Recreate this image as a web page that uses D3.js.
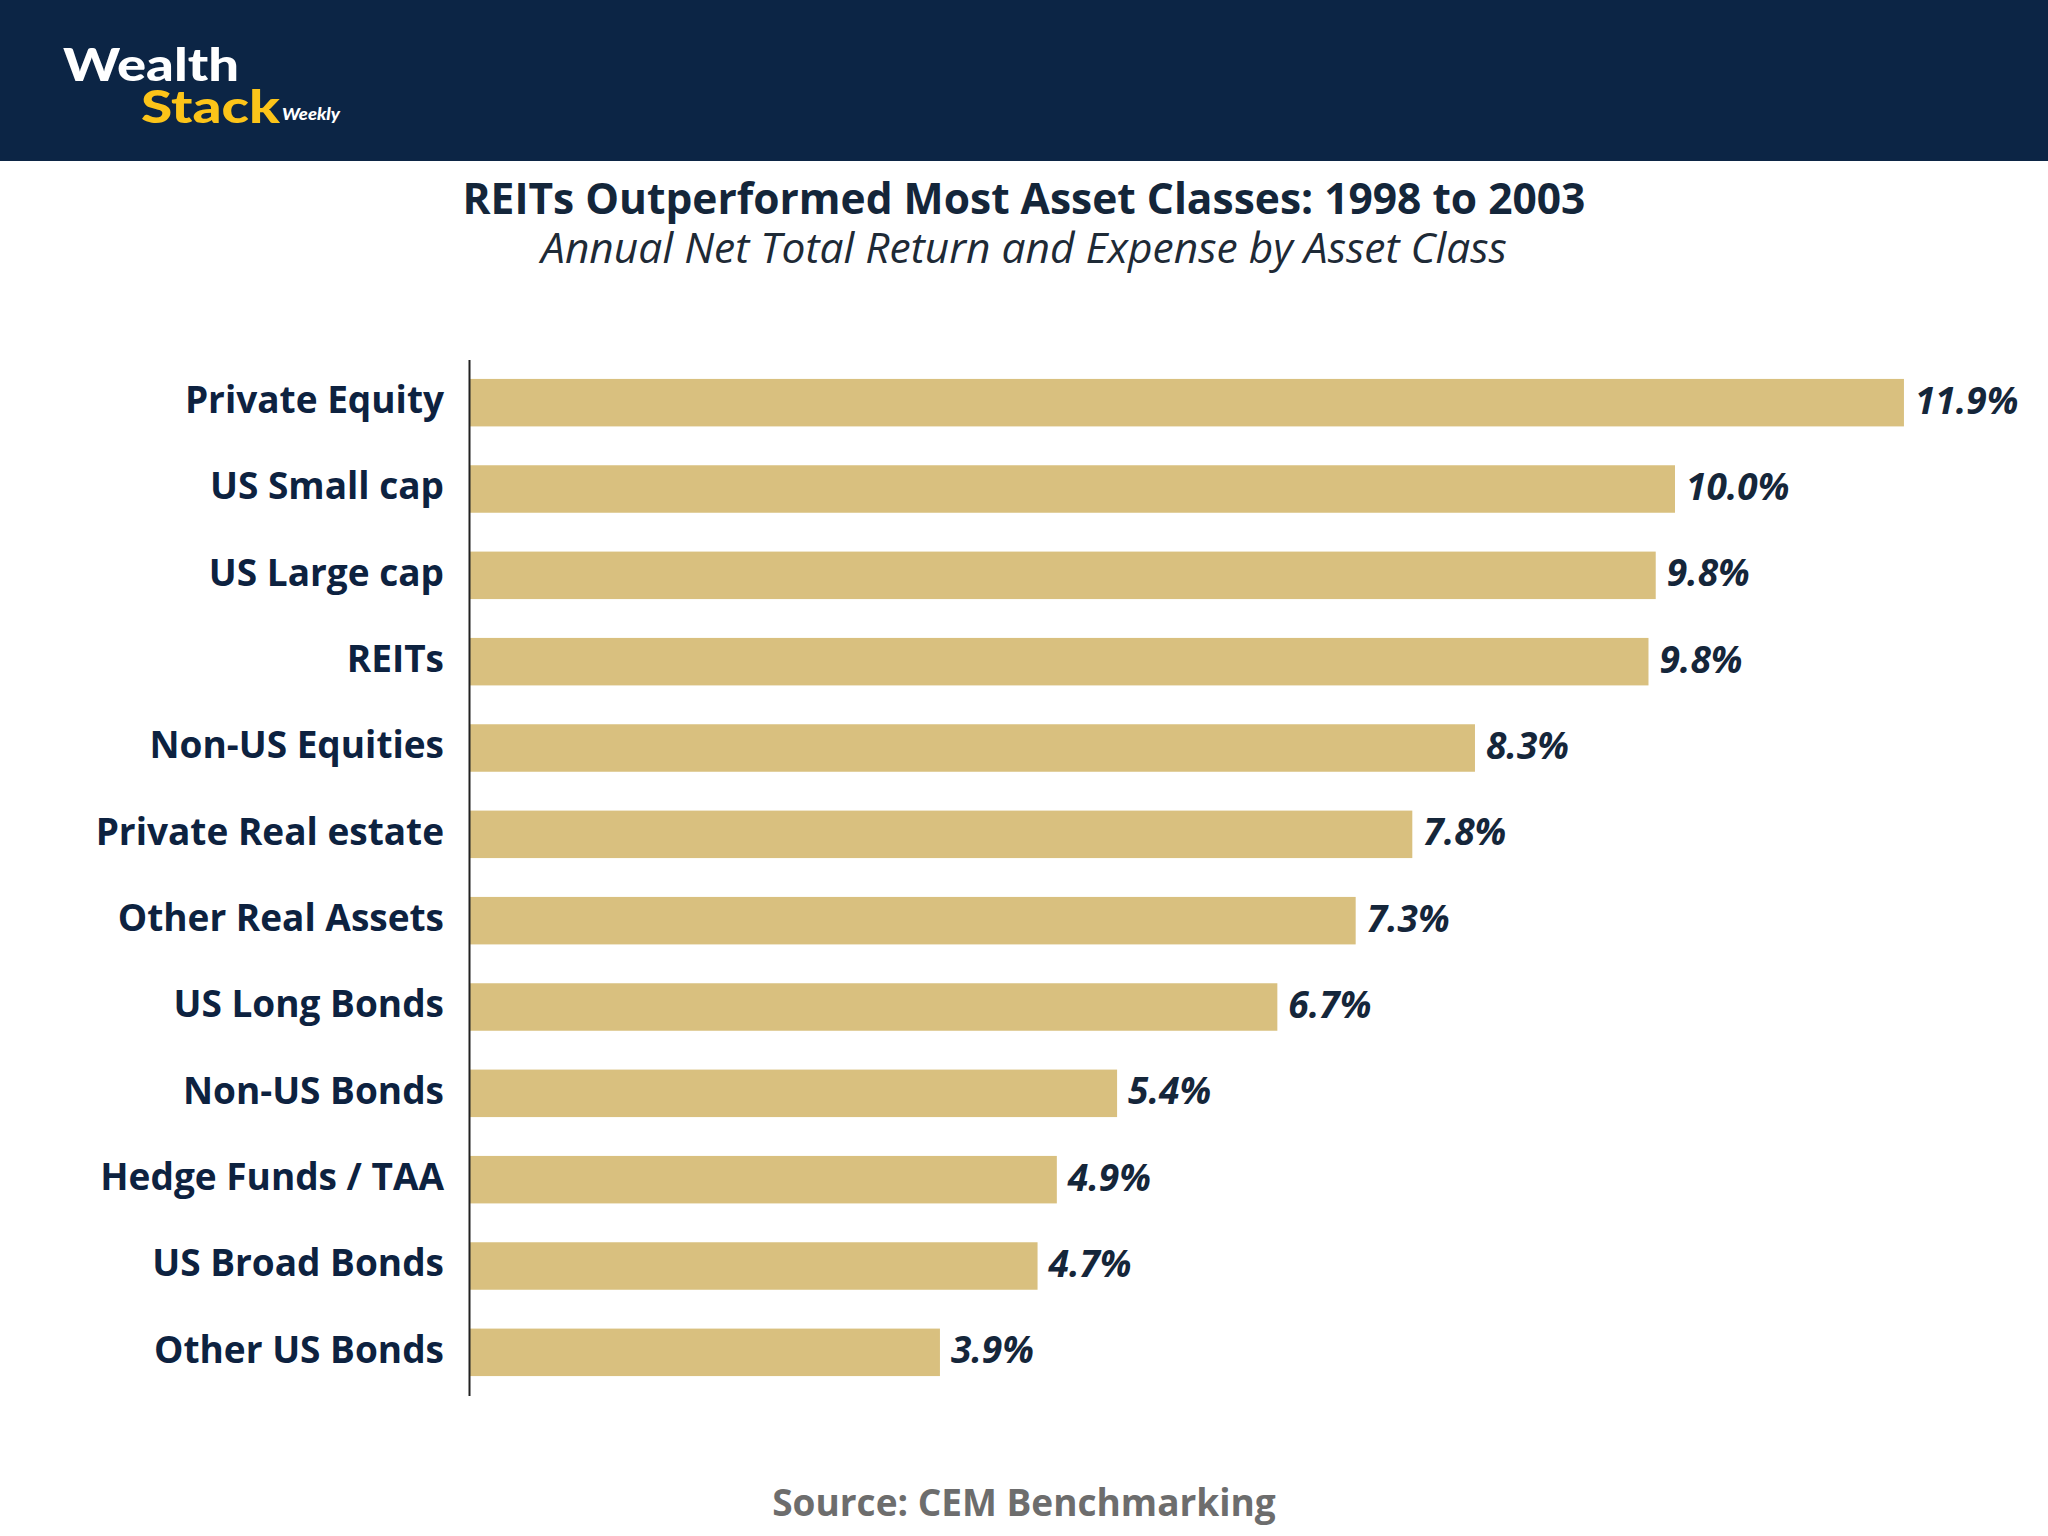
<!DOCTYPE html>
<html>
<head>
<meta charset="utf-8">
<script src="https://cdn.jsdelivr.net/npm/d3@7"></script>
<style>
  html, body { margin: 0; padding: 0; background: #ffffff; }
  svg { display: block; }
</style>
</head>
<body>
<svg id="chart" width="2048" height="1536"></svg>
<script>
// ---- Data ----
const categories = [
  "Private Equity", "US Small cap", "US Large cap", "REITs", "Non-US Equities",
  "Private Real estate", "Other Real Assets", "US Long Bonds", "Non-US Bonds",
  "Hedge Funds / TAA", "US Broad Bonds", "Other US Bonds"
];
const returns = [11.9, 10.0, 9.84, 9.78, 8.34, 7.82, 7.35, 6.7, 5.37, 4.87, 4.71, 3.9];
const valueLabels = ["11.9%", "10.0%", "9.8%", "9.8%", "8.3%", "7.8%", "7.3%", "6.7%", "5.4%", "4.9%", "4.7%", "3.9%"];
const titleText = "REITs Outperformed Most Asset Classes: 1998 to 2003";
const subtitleText = "Annual Net Total Return and Expense by Asset Class";
const sourceText = "Source: CEM Benchmarking";

const W = 2048, H = 1536;
const svg = d3.select("#chart");

// ---- Header ----
svg.append("rect").attr("x", 0).attr("y", 0).attr("width", W).attr("height", 161).attr("fill", "#0c2545");
const logo = svg.append("g");
logo.append("text").attr("x", 63).attr("y", 81)
  .attr("font-family", "Lato, 'Open Sans', sans-serif").attr("font-weight", 900)
  .attr("font-size", 45).attr("fill", "#ffffff").attr("textLength", 176).attr("lengthAdjust", "spacingAndGlyphs")
  .text("Wealth");
logo.append("text").attr("x", 141).attr("y", 123)
  .attr("font-family", "Lato, 'Open Sans', sans-serif").attr("font-weight", 900)
  .attr("font-size", 45).attr("fill", "#fcc419").attr("textLength", 139).attr("lengthAdjust", "spacingAndGlyphs")
  .text("Stack");
logo.append("text").attr("x", 282).attr("y", 120)
  .attr("font-family", "Lato, 'Open Sans', sans-serif").attr("font-weight", 900).attr("font-style", "italic")
  .attr("font-size", 17).attr("fill", "#ffffff").attr("textLength", 58).attr("lengthAdjust", "spacingAndGlyphs")
  .text("Weekly");

// ---- Titles ----
svg.append("text").attr("x", 1024).attr("y", 214).attr("text-anchor", "middle")
  .attr("font-family", "'Open Sans', sans-serif").attr("font-weight", 700)
  .attr("font-size", 42.5).attr("fill", "#14263a").text(titleText);
svg.append("text").attr("x", 1024).attr("y", 263).attr("text-anchor", "middle")
  .attr("font-family", "'Open Sans', sans-serif").attr("font-weight", 400).attr("font-style", "italic")
  .attr("font-size", 42.5).attr("fill", "#1e2a36").text(subtitleText);

// ---- Scales ----
const x0 = 470, xPerUnit = 120.5;
const x = d3.scaleLinear().domain([0, 11.9]).range([x0, x0 + 11.9 * xPerUnit]);
const y = d3.scaleBand().domain(categories).range([359.5, 1395.5]).paddingInner(0.45).paddingOuter(0.225);

// ---- Bars ----
svg.append("g").selectAll("rect").data(categories).join("rect")
  .attr("x", x(0))
  .attr("y", d => y(d))
  .attr("width", (d, i) => x(returns[i]) - x(0))
  .attr("height", y.bandwidth())
  .attr("fill", "#d9c07f");

// ---- Value labels ----
svg.append("g").selectAll("text").data(categories).join("text")
  .attr("x", (d, i) => x(returns[i]) + 11)
  .attr("y", d => y(d) + y.bandwidth() / 2)
  .attr("dy", "0.3em")
  .attr("font-family", "'Open Sans', sans-serif").attr("font-weight", 700).attr("font-style", "italic")
  .attr("font-size", 37).attr("fill", "#15263a")
  .text((d, i) => valueLabels[i]);

// ---- Axis ----
const axis = svg.append("g").attr("transform", `translate(${x0 - 1},0)`)
  .call(d3.axisLeft(y).tickSize(0).tickSizeOuter(0).tickPadding(25));
axis.select(".domain").attr("stroke", "#222").attr("stroke-width", 2);
axis.selectAll(".tick text")
  .attr("dy", "0.28em")
  .attr("font-family", "'Open Sans', sans-serif").attr("font-weight", 700)
  .attr("font-size", 37).attr("fill", "#0d2240");

// ---- Source ----
svg.append("text").attr("x", 1024).attr("y", 1516).attr("text-anchor", "middle")
  .attr("font-family", "'Open Sans', sans-serif").attr("font-weight", 700)
  .attr("font-size", 37).attr("fill", "#6d6d6d").text(sourceText);
</script>
</body>
</html>
